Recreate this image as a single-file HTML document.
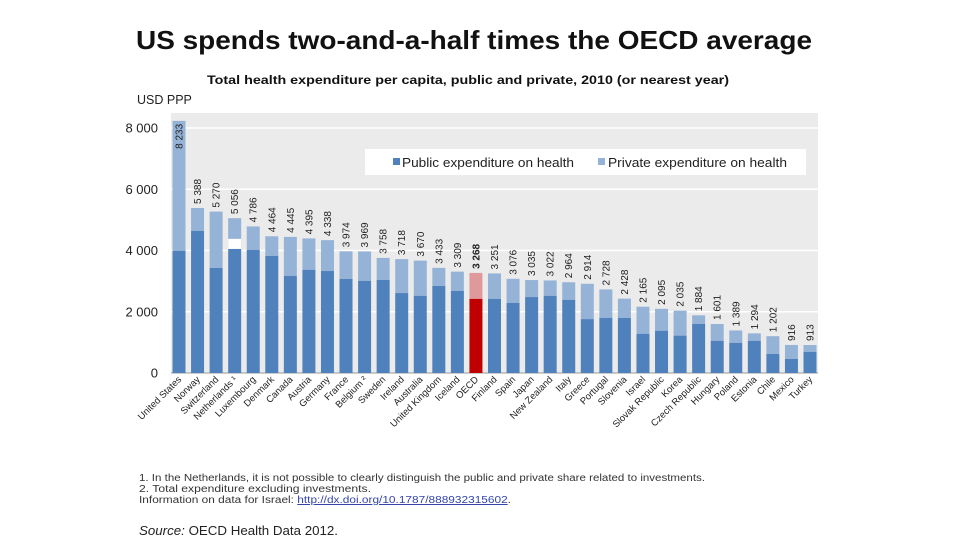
<!DOCTYPE html>
<html><head><meta charset="utf-8"><style>
body{margin:0;background:#fff;width:960px;height:540px;overflow:hidden;font-family:"Liberation Sans",sans-serif}
svg text{font-family:"Liberation Sans",sans-serif}
</style></head><body>
<svg id="chart" width="960" height="540">
<text x="136" y="49" font-size="26" font-weight="bold" fill="#111" textLength="676" lengthAdjust="spacingAndGlyphs">US spends two-and-a-half times the OECD average</text>
<text x="207" y="84" font-size="11.5" font-weight="bold" fill="#111" textLength="522" lengthAdjust="spacingAndGlyphs">Total health expenditure per capita, public and private, 2010 (or nearest year)</text>
<text x="137" y="104" font-size="12.5" fill="#222">USD PPP</text>
<rect x="171" y="113" width="647" height="260" fill="#ebebeb"/>
<g id="grid"></g>
<g id="bars"></g>
<g>
<rect x="365" y="149" width="441" height="26" fill="#fff"/>
<rect x="393" y="158" width="7" height="7" fill="#4f81bd"/>
<text x="402" y="167" font-size="13" fill="#222" textLength="172" lengthAdjust="spacingAndGlyphs">Public expenditure on health</text>
<rect x="598" y="158" width="7" height="7" fill="#95b3d7"/>
<text x="608" y="167" font-size="13" fill="#222" textLength="179" lengthAdjust="spacingAndGlyphs">Private expenditure on health</text>
</g>
<g font-size="10" fill="#333">
<text x="139" y="481" textLength="566" lengthAdjust="spacingAndGlyphs">1.  In the Netherlands, it is not possible to clearly distinguish the public and private share related to investments.</text>
<text x="139" y="492" textLength="232" lengthAdjust="spacingAndGlyphs">2.  Total expenditure excluding investments.</text>
<text x="139" y="503" textLength="372" lengthAdjust="spacingAndGlyphs">Information on data for Israel: <tspan fill="#3344aa" text-decoration="underline">http://dx.doi.org/10.1787/888932315602</tspan>.</text>
</g>
<text x="139" y="535" font-size="13" fill="#222" textLength="199" lengthAdjust="spacingAndGlyphs"><tspan font-style="italic">Source:</tspan> OECD Health Data 2012.</text>
</svg>
<script>
const countries=["United States","Norway","Switzerland","Netherlands ¹","Luxembourg","Denmark","Canada","Austria","Germany","France","Belgium ²","Sweden","Ireland","Australia","United Kingdom","Iceland","OECD","Finland","Spain","Japan","New Zealand","Italy","Greece","Portugal","Slovenia","Israel","Slovak Republic","Korea","Czech Republic","Hungary","Poland","Estonia","Chile","Mexico","Turkey"];
const totals=[8233,5388,5270,5056,4786,4464,4445,4395,4338,3974,3969,3758,3718,3670,3433,3309,3268,3251,3076,3035,3022,2964,2914,2728,2428,2165,2095,2035,1884,1601,1389,1294,1202,916,913];
const publics=[3990,4640,3430,4050,4020,3820,3170,3370,3330,3070,3010,3040,2610,2520,2840,2680,2420,2420,2290,2480,2520,2390,1760,1800,1800,1280,1380,1220,1600,1050,980,1050,620,460,690];
const unallocated=[0,0,0,330,0,0,0,0,0,0,0,0,0,0,0,0,0,0,0,0,0,0,0,0,0,0,0,0,0,0,0,0,0,0,0];
const yTicks=[0,2000,4000,6000,8000];
const yTickLabels=["0","2 000","4 000","6 000","8 000"];
const NS="http://www.w3.org/2000/svg";
function y(v){return 373-v*245/8000;}
function x(i){return 179+i*(810-179)/(countries.length-1);}
function fmt(v){return v>=1000?Math.floor(v/1000)+" "+String(v%1000).padStart(3,"0"):String(v);}
function mk(tag,attrs,parent){const e=document.createElementNS(NS,tag);for(const k in attrs)e.setAttribute(k,attrs[k]);parent.appendChild(e);return e;}
const grid=document.getElementById('grid'),bars=document.getElementById('bars');
yTicks.forEach((t,i)=>{
  if(t>0){const l=mk('line',{x1:171,x2:818,y1:y(t),y2:y(t),stroke:'#fff','stroke-width':1.5},grid);
  
  }
  const tx=mk('text',{x:158,y:y(t)+4.5,'text-anchor':'end','font-size':13,fill:'#222'},grid);
  tx.textContent=yTickLabels[i];
  
  
});
const ax=mk('line',{x1:171,x2:818,y1:373,y2:373,stroke:'#999'},grid);


countries.forEach((c,i)=>{
  const cx=x(i),w=13,oecd=c==="OECD";
  const pr=mk('rect',{x:cx-w/2,y:y(totals[i]),width:w,height:y(publics[i])-y(totals[i]),fill:oecd?'#e0999a':'#95b3d7'},bars);
  
  
  if(unallocated[i]>0){const g=mk('rect',{x:cx-w/2,y:y(publics[i]+unallocated[i]),width:w,height:y(publics[i])-y(publics[i]+unallocated[i]),fill:'#fff'},bars);
  
  }
  const pu=mk('rect',{x:cx-w/2,y:y(publics[i]),width:w,height:373-y(publics[i]),fill:oecd?'#c00000':'#4f81bd'},bars);
  
  
  const inside=i===0;
  const vy=inside?y(totals[i])+3:y(totals[i])-4;
  const vl=mk('text',{transform:`translate(${cx+3.5},${vy}) rotate(-90)`,'font-size':10,fill:'#222','text-anchor':inside?'end':'start','font-weight':oecd?'bold':'normal'},bars);
  vl.textContent=fmt(totals[i]);
  
  
  const cl=mk('text',{transform:`translate(${cx+3},${380}) rotate(-45)`,'font-size':9.5,fill:'#222','text-anchor':'end'},bars);
  cl.textContent=c;
  
  
});
</script>
</body></html>
